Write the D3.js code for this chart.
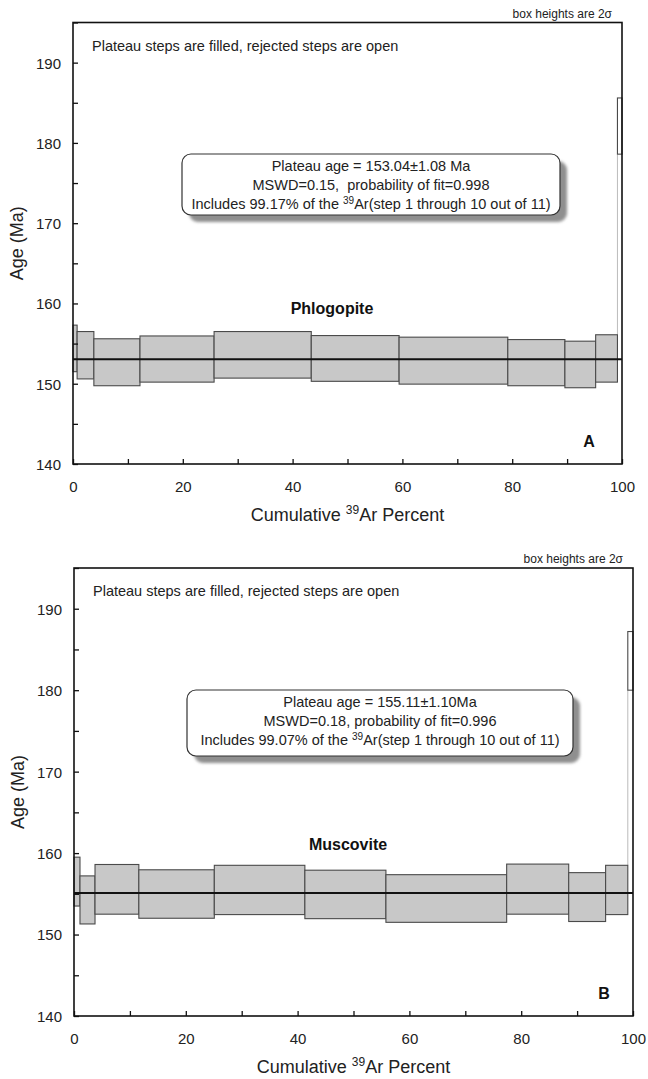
<!DOCTYPE html>
<html>
<head>
<meta charset="utf-8">
<script src="https://cdn.jsdelivr.net/npm/d3@7"></script>
<style>
  body { margin: 0; background: #fff; }
  svg { display: block; font-family: Arial, "Liberation Sans", sans-serif; }
</style>
</head>
<body>
<svg id="chart" width="648" height="1079"></svg>
<script>
// Panel A - phlogopite steps (cumulative 39Ar %, box low/high age in Ma)
const phlogCum  = [0, 0.75, 3.8, 12.2, 25.7, 43.4, 59.4, 79.2, 89.6, 95.2, 99.17, 100];
const phlogLow  = [151.5, 150.6, 149.75, 150.2, 150.7, 150.3, 149.95, 149.75, 149.5, 150.2, 178.6];
const phlogHigh = [157.3, 156.5, 155.6, 155.95, 156.5, 156.0, 155.8, 155.5, 155.3, 156.1, 185.6];
const phlogPlateau = 153.04;
const phlogText = ['Plateau age = 153.04\u00b11.08 Ma', 'MSWD=0.15,  probability of fit=0.998', '99.17%'];

// Panel B - muscovite steps
const muscCum  = [0, 1.07, 3.76, 11.6, 25.1, 41.3, 55.8, 77.4, 88.5, 95.1, 99.07, 100];
const muscLow  = [153.5, 151.3, 152.5, 152.0, 152.45, 151.95, 151.5, 152.5, 151.6, 152.45, 180.0];
const muscHigh = [159.5, 157.2, 158.6, 157.95, 158.5, 157.9, 157.35, 158.65, 157.6, 158.5, 187.2];
const muscPlateau = 155.11;
const muscText = ['Plateau age = 155.11\u00b11.10Ma', 'MSWD=0.18, probability of fit=0.996', '99.07%'];

const plateauSteps = 10; // steps 1-10 filled, step 11 rejected

const ageDomain = [140, 195];
const ageTicks = d3.range(140, 196, 5);
const pctTicks = d3.range(0, 101, 10);

const svg = d3.select('#chart');

const defs = svg.append('defs');
defs.append('filter').attr('id', 'shadow')
  .attr('x', '-10%').attr('y', '-30%').attr('width', '130%').attr('height', '180%')
  .append('feGaussianBlur').attr('stdDeviation', 1.4);

function drawPanel(p) {
  const x = d3.scaleLinear().domain([0, 100]).range([p.left, p.right]);
  const y = d3.scaleLinear().domain(ageDomain).range([p.bottom, p.top]);
  const g = svg.append('g');

  const steps = p.low.map((lo, i) => ({
    x0: p.cum[i], x1: p.cum[i + 1], lo: lo, hi: p.high[i], plateau: i < plateauSteps
  }));

  // connector from last plateau step to rejected step
  const last = steps[plateauSteps - 1], rej = steps[plateauSteps];
  g.append('line')
    .attr('x1', x(rej.x0)).attr('x2', x(rej.x0))
    .attr('y1', y(last.hi)).attr('y2', y(rej.lo))
    .attr('stroke', '#bbb').attr('stroke-width', 1);

  g.selectAll('rect.step')
    .data(steps)
    .enter()
    .append('rect')
    .attr('class', 'step')
    .attr('x', d => x(d.x0))
    .attr('width', d => x(d.x1) - x(d.x0))
    .attr('y', d => y(d.hi))
    .attr('height', d => y(d.lo) - y(d.hi))
    .attr('fill', d => d.plateau ? '#c8c8c8' : '#fff')
    .attr('stroke', '#4a4a4a')
    .attr('stroke-width', 1.1);

  // plateau age line
  g.append('line')
    .attr('x1', x(0)).attr('x2', x(100))
    .attr('y1', y(p.plateau)).attr('y2', y(p.plateau))
    .attr('stroke', '#111').attr('stroke-width', 2);

  // axes, ticks point inward
  const xAxis = d3.axisBottom(x)
    .tickValues(pctTicks)
    .tickSize(-5)
    .tickSizeOuter(0)
    .tickPadding(17)
    .tickFormat(d => d % 20 === 0 ? d : '');
  const yAxis = d3.axisLeft(y)
    .tickValues(ageTicks)
    .tickSize(-5)
    .tickSizeOuter(0)
    .tickPadding(12)
    .tickFormat(d => d % 10 === 0 ? d : '');

  const gx = g.append('g').attr('transform', `translate(0,${p.bottom})`).call(xAxis);
  const gy = g.append('g').attr('transform', `translate(${p.left},0)`).call(yAxis);
  [gx, gy].forEach(a => {
    a.select('.domain').remove();
    a.selectAll('line').attr('stroke', '#111').attr('stroke-width', 1.3);
    a.selectAll('text').attr('font-size', 15).attr('fill', '#222').attr('font-family', null);
  });
  gy.selectAll('text').attr('dy', '0.36em');

  // frame
  g.append('rect')
    .attr('x', p.left).attr('y', p.top)
    .attr('width', p.right - p.left).attr('height', p.bottom - p.top)
    .attr('fill', 'none').attr('stroke', '#111').attr('stroke-width', 1.6);

  // axis titles
  const xt = g.append('text')
    .attr('x', (p.left + p.right) / 2).attr('y', p.bottom + 57)
    .attr('text-anchor', 'middle').attr('font-size', 18).attr('fill', '#222');
  xt.append('tspan').text('Cumulative ');
  xt.append('tspan').attr('font-size', 12).attr('baseline-shift', '55%').text('39');
  xt.append('tspan').text('Ar Percent');

  g.append('text')
    .attr('transform', `translate(${p.left - 50},${(p.top + p.bottom) / 2}) rotate(-90)`)
    .attr('text-anchor', 'middle').attr('font-size', 18).attr('fill', '#222')
    .text('Age (Ma)');

  // notes
  g.append('text')
    .attr('x', p.right - 10).attr('y', p.top - 5)
    .attr('text-anchor', 'end').attr('font-size', 12).attr('fill', '#222')
    .text('box heights are 2\u03c3');
  g.append('text')
    .attr('x', p.left + 19).attr('y', p.top + 28)
    .attr('font-size', 14.5).attr('fill', '#222')
    .text('Plateau steps are filled, rejected steps are open');

  // mineral name and panel letter
  g.append('text')
    .attr('x', p.nameX).attr('y', p.nameY)
    .attr('text-anchor', 'middle').attr('font-size', 16).attr('font-weight', 'bold').attr('fill', '#111')
    .text(p.name);
  g.append('text')
    .attr('x', p.letterX).attr('y', p.bottom - 17)
    .attr('text-anchor', 'middle').attr('font-size', 16).attr('font-weight', 'bold').attr('fill', '#111')
    .text(p.letter);

  // result box with shadow
  const b = p.box;
  g.append('rect')
    .attr('x', b.x + 7).attr('y', b.y + 7).attr('width', b.w).attr('height', b.h)
    .attr('rx', 9).attr('fill', '#8f8f8f').attr('filter', 'url(#shadow)');
  g.append('rect')
    .attr('x', b.x).attr('y', b.y).attr('width', b.w).attr('height', b.h)
    .attr('rx', 9).attr('fill', '#fff').attr('stroke', '#333').attr('stroke-width', 1.2);

  const cx = b.x + b.w / 2;
  const lineY = [b.y + 17, b.y + 36, b.y + 55];
  g.append('text').attr('x', cx).attr('y', lineY[0]).attr('text-anchor', 'middle')
    .attr('font-size', 14.5).attr('fill', '#222').text(p.text[0]);
  g.append('text').attr('x', cx).attr('y', lineY[1]).attr('text-anchor', 'middle')
    .style('white-space', 'pre')
    .attr('font-size', 14.5).attr('fill', '#222').text(p.text[1]);
  const t3 = g.append('text').attr('x', cx).attr('y', lineY[2]).attr('text-anchor', 'middle')
    .attr('font-size', 14.5).attr('fill', '#222');
  t3.append('tspan').text(`Includes ${p.text[2]} of the `);
  t3.append('tspan').attr('font-size', 10).attr('baseline-shift', '55%').text('39');
  t3.append('tspan').text('Ar(step 1 through 10 out of 11)');
}

drawPanel({
  left: 73, right: 622, top: 22.5, bottom: 464,
  cum: phlogCum, low: phlogLow, high: phlogHigh, plateau: phlogPlateau,
  text: phlogText, name: 'Phlogopite', nameX: 332, nameY: 314, letter: 'A', letterX: 589,
  box: { x: 182, y: 154, w: 378, h: 61 }
});

drawPanel({
  left: 74, right: 633, top: 568, bottom: 1016,
  cum: muscCum, low: muscLow, high: muscHigh, plateau: muscPlateau,
  text: muscText, name: 'Muscovite', nameX: 348, nameY: 850, letter: 'B', letterX: 604,
  box: { x: 187, y: 690, w: 386, h: 66 }
});
</script>
</body>
</html>
